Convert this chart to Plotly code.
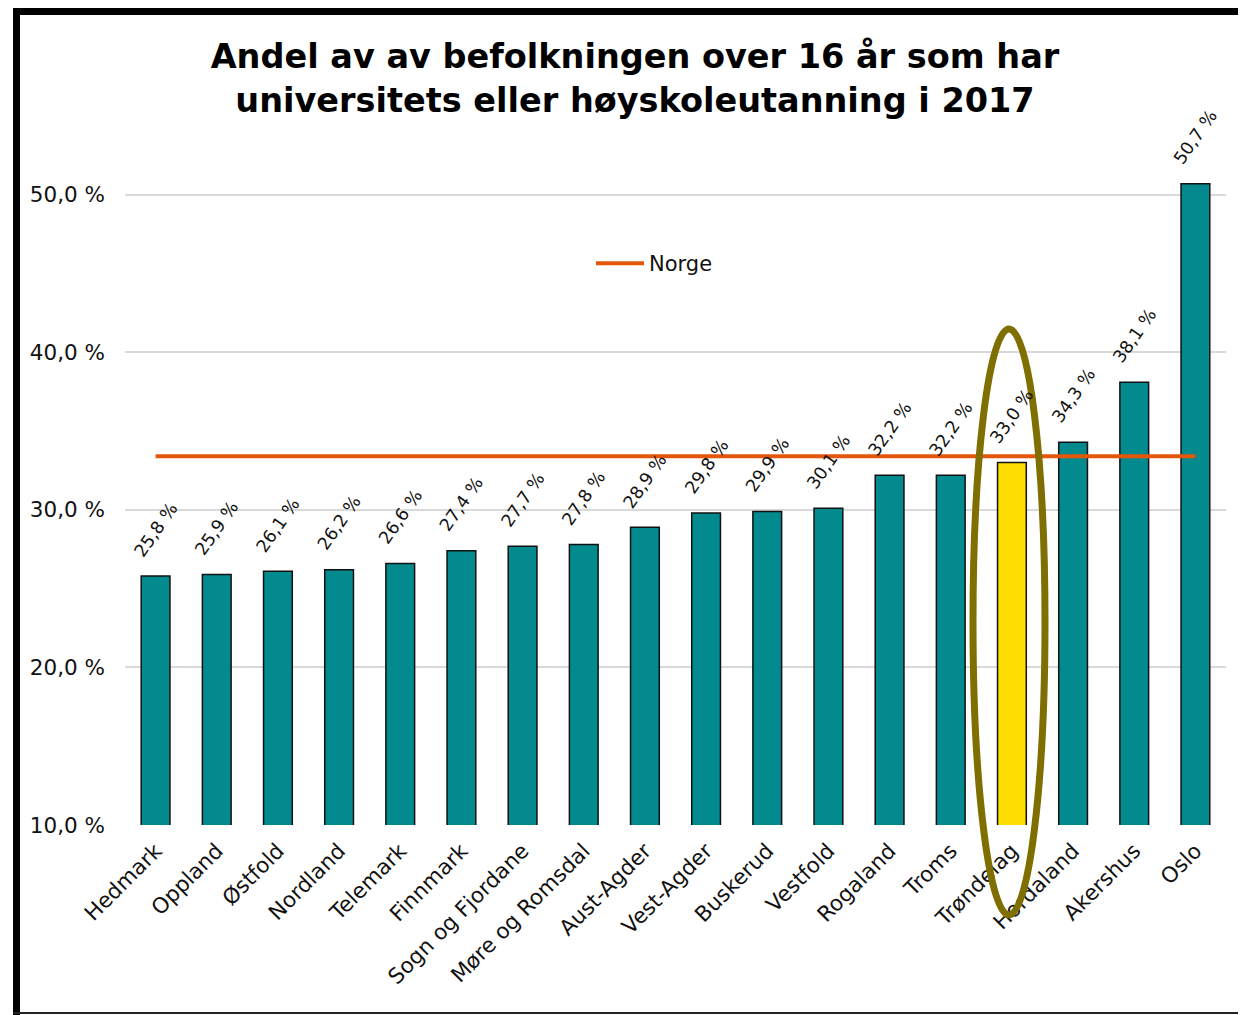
import plotly.graph_objects as go

categories = ["Hedmark", "Oppland", "Østfold", "Nordland", "Telemark", "Finnmark",
              "Sogn og Fjordane", "Møre og Romsdal", "Aust-Agder", "Vest-Agder",
              "Buskerud", "Vestfold", "Rogaland", "Troms", "Trøndelag", "Hordaland",
              "Akershus", "Oslo"]
values = [25.8, 25.9, 26.1, 26.2, 26.6, 27.4, 27.7, 27.8, 28.9, 29.8, 29.9, 30.1,
          32.2, 32.2, 33.0, 34.3, 38.1, 50.7]
norge_value = 33.4
highlight = "Trøndelag"
y_ticks = [10, 20, 30, 40, 50]

# page is rendered with an 8px body margin
OFF = 8
FW, FH = 1246 - OFF, 1015 - OFF
L, T = 125 - OFF, 116 - OFF
R = FW - (1226 - OFF)
B = FH - (825 - OFF)
PW, PH = FW - L - R, FH - T - B

def fmt(v):
    return f"{v:.1f}".replace(".", ",") + " %"

def px(x_page):
    return (x_page - OFF - L) / PW

def py(y_page):
    return (FH - B - (y_page - OFF)) / PH

FONT = "DejaVu Sans, Verdana, sans-serif"
TEAL = "#028A8F"
YELLOW = "#FFDD00"
ORANGE = "#E5560B"
OLIVE = "#7F6E00"

colors = [YELLOW if c == highlight else TEAL for c in categories]

fig = go.Figure()
fig.add_trace(go.Bar(
    x=categories, y=values, marker=dict(color=colors, line=dict(color="#111111", width=1.5)),
    width=0.47, showlegend=False, hoverinfo="skip"))
fig.add_trace(go.Scatter(
    x=[categories[0], categories[-1]], y=[norge_value, norge_value], mode="lines",
    name="Norge", line=dict(color=ORANGE, width=4), showlegend=True))

for c, v in zip(categories, values):
    fig.add_annotation(x=c, y=v, text=fmt(v), showarrow=False, textangle=-55,
                       yanchor="bottom", xanchor="center", yshift=13,
                       font=dict(family=FONT, size=17.5, color="#111111"))

# highlight ellipse around Trøndelag
fig.add_shape(type="circle", xref="paper", yref="paper",
              x0=px(973), x1=px(1045), y0=py(915), y1=py(329),
              line=dict(color=OLIVE, width=7), layer="above")

# frame
fig.add_shape(type="rect", xref="paper", yref="paper", x0=px(13), x1=px(20), y0=py(1016), y1=py(7),
              fillcolor="black", line=dict(width=0), layer="above")
fig.add_shape(type="rect", xref="paper", yref="paper", x0=px(13), x1=px(1247), y0=py(15), y1=py(7),
              fillcolor="black", line=dict(width=0), layer="above")
fig.add_shape(type="line", xref="paper", yref="paper", x0=px(13), x1=px(1247), y0=py(1013), y1=py(1013),
              line=dict(color="#222222", width=2), layer="above")

fig.update_layout(
    width=FW, height=FH,
    margin=dict(l=L, r=R, t=T, b=B, autoexpand=False),
    paper_bgcolor="white", plot_bgcolor="white",
    font=dict(family=FONT, color="#111111"),
    title=dict(text="<b>Andel av av befolkningen over 16 år som har<br>universitets eller høyskoleutanning i 2017</b>",
               x=(635 - OFF) / FW, xanchor="center", y=1 - 60 / FH, yanchor="top", yref="container",
               font=dict(family=FONT, size=33.5, color="black")),
    legend=dict(x=px(591), y=py(243), xanchor="left", yanchor="top", bgcolor="rgba(0,0,0,0)",
                font=dict(family=FONT, size=21, color="#111111"), itemwidth=48),
    bargap=0.53,
    xaxis=dict(tickangle=-45, tickfont=dict(family=FONT, size=21.5, color="#111111"),
               showgrid=False, showline=False, ticks="", automargin=False,
               ticklabelstandoff=8),
    yaxis=dict(range=[10, 55], tickvals=y_ticks, ticktext=[fmt(v) for v in y_ticks],
               tickfont=dict(family=FONT, size=21.5, color="#111111"),
               showgrid=True, gridcolor="#D9D9D9", gridwidth=2, zeroline=False,
               showline=False, ticklabelstandoff=19, automargin=False),
)

fig.write_html("out.html")
